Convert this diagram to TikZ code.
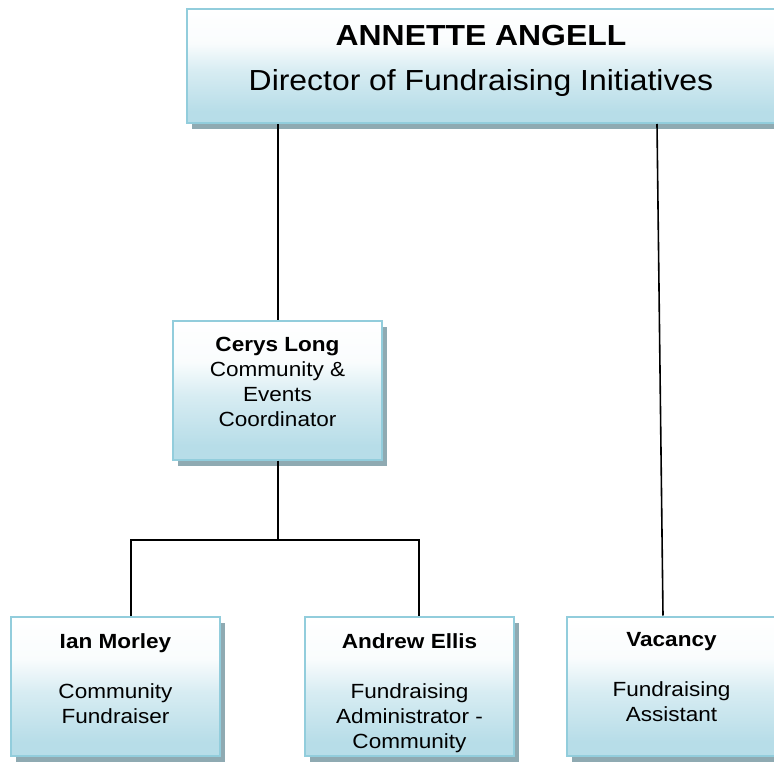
\documentclass[tikz,border=0pt]{standalone}
\usepackage{fontspec}
\setmainfont{Liberation Sans}
\newfontfamily\orgfont[FakeStretch=1.1]{Liberation Sans}
\usetikzlibrary{positioning, shadows}

\definecolor{boxblue}{RGB}{183,221,232}
\definecolor{boxedge}{RGB}{146,205,220}
\definecolor{shadowgray}{RGB}{143,170,178}

\pgfdeclareverticalshading{boxshade}{100bp}{color(0bp)=(boxblue); color(30bp)=(boxblue);
  color(48bp)=(white!45!boxblue); color(60bp)=(white!92!boxblue); color(75bp)=(white); color(100bp)=(white)}

\begin{document}
\begin{tikzpicture}[
    x=1pt, y=1pt,
    staffbox/.style={rectangle, draw=boxedge, line width=2pt, shading=boxshade,
      minimum width=209pt, minimum height=139pt,
      drop shadow={shadow xshift=5pt, shadow yshift=-6pt, fill=shadowgray, opacity=1}},
    headbox/.style={staffbox, minimum width=588pt, minimum height=114pt},
    stafftext/.style={inner sep=0pt, align=center, font=\orgfont\fontsize{20.5}{25}\selectfont},
    headtext/.style={inner sep=0pt, align=center, font=\orgfont\fontsize{29}{45}\selectfont},
    orgline/.style={line width=2pt}
]
  \path[use as bounding box, clip] (0,0) rectangle (774,-762);

  \node[headbox] (top) at (481,-66) {};
  \node[staffbox] (cerys) at (277.5,-390) {};
  \node[staffbox] (ian) at (115.5,-686.5) {};
  \node[staffbox] (andrew) at (409.5,-686.5) {};
  \node[staffbox] (vac) at (671.5,-686) {};

  \node[headtext, below=17pt of top.north] (topt) {\textbf{ANNETTE ANGELL}\\Director of Fundraising Initiatives};
  \node[stafftext, below=17pt of cerys.north] (ceryst) {\textbf{Cerys Long}\\Community \&\\Events\\Coordinator};
  \node[stafftext, below=17pt of ian.north] (iant) {\textbf{Ian Morley}\\[25pt]Community\\Fundraiser};
  \node[stafftext, below=17pt of andrew.north] (andrewt) {\textbf{Andrew Ellis}\\[25pt]Fundraising\\Administrator -\\Community};
  \node[stafftext, below=17pt of vac.north] (vact) {\textbf{Vacancy}\\[25pt]Fundraising\\Assistant};

  \coordinate (split) at (277.5,-540);

  \draw[orgline] (cerys.north) -- (cerys.north |- top.south);
  \draw[orgline] (cerys.south) -- (split);
  \draw[orgline] ([xshift=15.5pt]ian.north) |- (split) -| ([xshift=9.5pt]andrew.north);
  \draw[line width=1.6pt] ([xshift=176pt]top.south) -- ([xshift=-8.5pt]vac.north);
\end{tikzpicture}
\end{document}
